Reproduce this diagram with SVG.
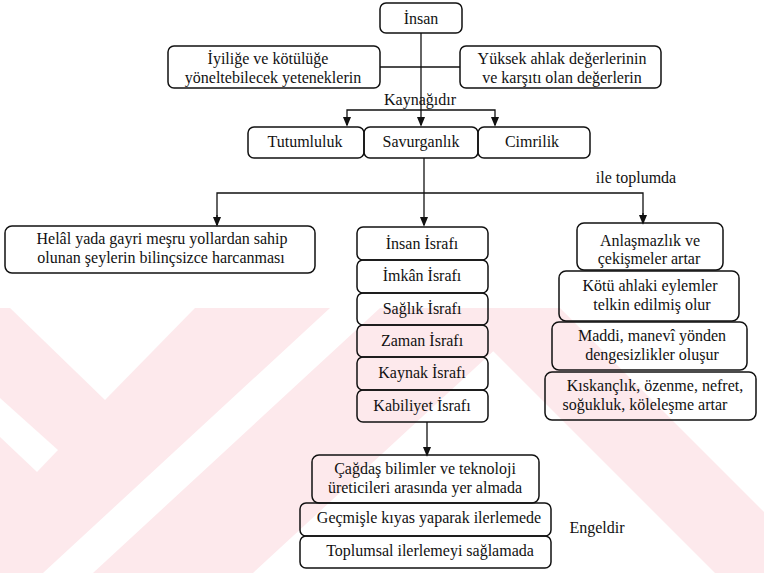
<svg xmlns="http://www.w3.org/2000/svg" width="764" height="573" viewBox="0 0 764 573">
<defs>
<style>
.box{fill:none;stroke:#111;stroke-width:1.5}
.ln{fill:none;stroke:#111;stroke-width:1.3}
.wm{fill:#fde9ec}
.wh{fill:#ffffff}
</style>
<marker id="arr" markerWidth="10" markerHeight="12" refX="10" refY="5" orient="auto" markerUnits="userSpaceOnUse" viewBox="0 0 12 10">
<path d="M0,0 L12,5 L0,10 Z" fill="#111"/>
</marker>
</defs>
<rect width="764" height="573" fill="#ffffff"/>
<g id="watermark">
<polygon class="wm" points="0,308 330,308 43,573 0,573"/>
<polygon class="wm" points="380,308 540,308 253,573 93,573"/>
<polygon class="wm" points="450,308 560,308 764,512 764,573 715,573"/>
<polygon class="wh" points="10,308 195,308 105,400"/>
<polygon class="wh" points="0,398 58,450 37,472 0,437"/>
</g>
<g id="connectors">
<line class="ln" x1="380" y1="67" x2="460" y2="67"/>
<line class="ln" x1="421" y1="33" x2="421" y2="125" marker-end="url(#arr)"/>
<polyline class="ln" points="347,125 347,110 495,110 495,125"/>
<line class="ln" x1="347" y1="118" x2="347" y2="125" marker-end="url(#arr)"/>
<line class="ln" x1="495" y1="118" x2="495" y2="125" marker-end="url(#arr)"/>
<line class="ln" x1="424" y1="158" x2="424" y2="225" marker-end="url(#arr)"/>
<polyline class="ln" points="217,225 217,193 643,193 643,223"/>
<line class="ln" x1="217" y1="215" x2="217" y2="225" marker-end="url(#arr)"/>
<line class="ln" x1="643" y1="213" x2="643" y2="223" marker-end="url(#arr)"/>
<line class="ln" x1="427" y1="422" x2="427" y2="455" marker-end="url(#arr)"/>
</g>
<g font-family="Liberation Serif, Times New Roman, serif" font-size="16" fill="#111" text-anchor="middle">
<g id="n-insan"><rect class="box" x="380" y="3" width="82" height="30" rx="6"/><text x="421" y="24">İnsan</text></g>
<g id="n-iyilige"><rect class="box" x="168" y="46" width="212" height="42" rx="6"/><text x="268" y="64">İyiliğe ve kötülüğe</text><text x="273" y="83">yöneltebilecek yeteneklerin</text></g>
<g id="n-yuksek"><rect class="box" x="460" y="46" width="201" height="42" rx="6"/><text x="562" y="64">Yüksek ahlak değerlerinin</text><text x="562" y="83">ve karşıtı olan değerlerin</text></g>
<text x="420" y="105">Kaynağıdır</text>
<g id="n-tutumluluk"><rect class="box" x="248" y="127" width="116" height="31" rx="6"/><text x="305" y="147">Tutumluluk</text></g>
<g id="n-savurganlik"><rect class="box" x="364" y="127" width="114" height="31" rx="6"/><text x="421" y="147">Savurganlık</text></g>
<g id="n-cimrilik"><rect class="box" x="478" y="127" width="112" height="31" rx="6"/><text x="532" y="147">Cimrilik</text></g>
<text x="636" y="183">ile toplumda</text>
<g id="n-helal"><rect class="box" x="5" y="226" width="310" height="47" rx="7"/><text x="162" y="244">Helâl yada gayri meşru yollardan sahip</text><text x="161" y="263">olunan şeylerin bilinçsizce harcanması</text></g>
<g id="n-israf">
<rect class="box" x="357" y="227" width="131" height="33" rx="6"/><text x="422" y="249">İnsan İsrafı</text>
<rect class="box" x="357" y="260" width="131" height="33" rx="6"/><text x="422" y="281">İmkân İsrafı</text>
<rect class="box" x="357" y="293" width="131" height="32" rx="6"/><text x="422" y="314">Sağlık İsrafı</text>
<rect class="box" x="357" y="325" width="131" height="32" rx="6"/><text x="422" y="346">Zaman İsrafı</text>
<rect class="box" x="357" y="357" width="131" height="33" rx="6"/><text x="422" y="378">Kaynak İsrafı</text>
<rect class="box" x="357" y="390" width="131" height="32" rx="6"/><text x="422" y="411">Kabiliyet İsrafı</text>
</g>
<g id="n-anlasmazlik"><rect class="box" x="577" y="223" width="146" height="47" rx="7"/><text x="650" y="246">Anlaşmazlık ve</text><text x="649" y="264">çekişmeler artar</text></g>
<g id="n-kotu"><rect class="box" x="559" y="271" width="180" height="50" rx="7"/><text x="650" y="291">Kötü ahlaki eylemler</text><text x="652" y="310">telkin edilmiş olur</text></g>
<g id="n-maddi"><rect class="box" x="552" y="322" width="195" height="48" rx="7"/><text x="652" y="341">Maddi, manevî yönden</text><text x="652" y="360">dengesizlikler oluşur</text></g>
<g id="n-kiskanclik"><rect class="box" x="545" y="372" width="211" height="48" rx="7"/><text x="655" y="391">Kıskançlık, özenme, nefret,</text><text x="645" y="410">soğukluk, köleleşme artar</text></g>
<g id="n-cagdas"><rect class="box" x="312" y="455" width="227" height="48" rx="7"/><text x="425" y="474">Çağdaş bilimler ve teknoloji</text><text x="425" y="493">üreticileri arasında yer almada</text></g>
<g id="n-gecmisle"><rect class="box" x="300" y="503" width="251" height="33" rx="6"/><text x="429" y="523">Geçmişle kıyas yaparak ilerlemede</text></g>
<g id="n-toplumsal"><rect class="box" x="300" y="536" width="251" height="32" rx="6"/><text x="430" y="556">Toplumsal ilerlemeyi sağlamada</text></g>
<text x="597" y="533">Engeldir</text>
</g>
</svg>
